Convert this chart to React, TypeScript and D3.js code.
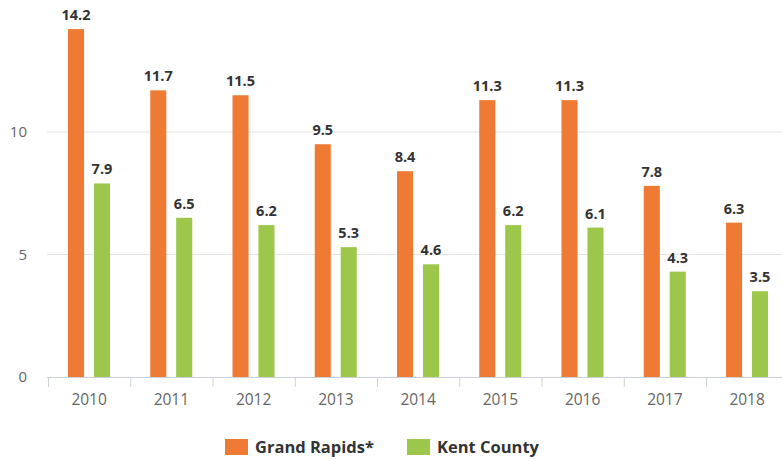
import React, { useEffect, useRef } from 'react';
import * as d3 from 'd3';

const years = ['2010', '2011', '2012', '2013', '2014', '2015', '2016', '2017', '2018'];
const grandRapids = [14.2, 11.7, 11.5, 9.5, 8.4, 11.3, 11.3, 7.8, 6.3];
const kentCounty = [7.9, 6.5, 6.2, 5.3, 4.6, 6.2, 6.1, 4.3, 3.5];
const seriesNames = ['Grand Rapids*', 'Kent County'];
const seriesColors = ['#ee7a34', '#9cc74a'];
const yTicks = [0, 5, 10];

const WIDTH = 782;
const HEIGHT = 460;
const FONT = '"Open Sans", "DejaVu Sans", sans-serif';

export default function App() {
  const ref = useRef<SVGSVGElement>(null);

  useEffect(() => {
    const svg = d3.select(ref.current);
    svg.selectAll('*').remove();

    const x = d3.scaleBand().domain(years).range([48, 48 + 9 * 82.25]).padding(0);
    const inner = d3.scaleBand().domain(seriesNames).range([20, 62]).paddingInner(0.38);
    const y = d3.scaleLinear().domain([0, 15]).range([377, 9.5]);

    // grid lines
    svg
      .append('g')
      .selectAll('line')
      .data(yTicks.filter((t) => t > 0))
      .join('line')
      .attr('x1', 47)
      .attr('x2', WIDTH)
      .attr('y1', (d) => y(d))
      .attr('y2', (d) => y(d))
      .attr('stroke', '#e3e3e3')
      .attr('stroke-width', 1.2);

    // y labels
    svg
      .append('g')
      .selectAll('text')
      .data(yTicks)
      .join('text')
      .attr('x', 27)
      .attr('y', (d) => y(d) + 5)
      .attr('text-anchor', 'end')
      .attr('font-family', FONT)
      .attr('font-size', 15)
      .attr('fill', '#666')
      .text((d) => d);

    const data = [grandRapids, kentCounty];

    // bars
    data.forEach((vals, si) => {
      const g = svg.append('g');
      g.selectAll('rect')
        .data(vals)
        .join('rect')
        .attr('x', (_, i) => (x(years[i]) as number) + (inner(seriesNames[si]) as number))
        .attr('width', inner.bandwidth())
        .attr('y', (d) => y(d))
        .attr('height', (d) => y(0) - y(d))
        .attr('fill', seriesColors[si]);
      g.selectAll('text')
        .data(vals)
        .join('text')
        .attr('x', (_, i) => (x(years[i]) as number) + (inner(seriesNames[si]) as number) + inner.bandwidth() / 2)
        .attr('y', (d) => y(d) - 9)
        .attr('text-anchor', 'middle')
        .attr('font-family', FONT)
        .attr('font-size', 14.5)
        .attr('font-weight', 'bold')
        .attr('fill', '#333')
        .attr('stroke', '#fff')
        .attr('stroke-width', 2)
        .attr('paint-order', 'stroke')
        .text((d) => d.toFixed(1));
    });

    // x axis line
    svg
      .append('line')
      .attr('x1', 47)
      .attr('x2', WIDTH)
      .attr('y1', y(0) + 0.5)
      .attr('y2', y(0) + 0.5)
      .attr('stroke', '#ccd0d8')
      .attr('stroke-width', 1.2);

    // ticks at band boundaries
    svg
      .append('g')
      .selectAll('line')
      .data(years)
      .join('line')
      .attr('x1', (d) => (x(d) as number) + 0.5)
      .attr('x2', (d) => (x(d) as number) + 0.5)
      .attr('y1', y(0))
      .attr('y2', y(0) + 10)
      .attr('stroke', '#ccd0d8');

    svg
      .append('g')
      .selectAll('text')
      .data(years)
      .join('text')
      .attr('x', (d) => (x(d) as number) + x.bandwidth() / 2)
      .attr('y', 405)
      .attr('text-anchor', 'middle')
      .attr('font-family', FONT)
      .attr('font-size', 15.5)
      .attr('fill', '#666')
      .text((d) => d);

    // legend
    const legendX = [225, 407];
    seriesNames.forEach((name, i) => {
      svg
        .append('rect')
        .attr('x', legendX[i])
        .attr('y', 439)
        .attr('width', 23)
        .attr('height', 16)
        .attr('fill', seriesColors[i]);
      svg
        .append('text')
        .attr('x', legendX[i] + 30)
        .attr('y', 453)
        .attr('font-family', FONT)
        .attr('font-size', 16.5)
        .attr('font-weight', 'bold')
        .attr('fill', '#333')
        .text(name);
    });
  }, []);

  return (
    <svg
      ref={ref}
      width={WIDTH}
      height={HEIGHT}
      style={{ position: 'absolute', left: 0, top: 0, background: '#fff' }}
    />
  );
}
